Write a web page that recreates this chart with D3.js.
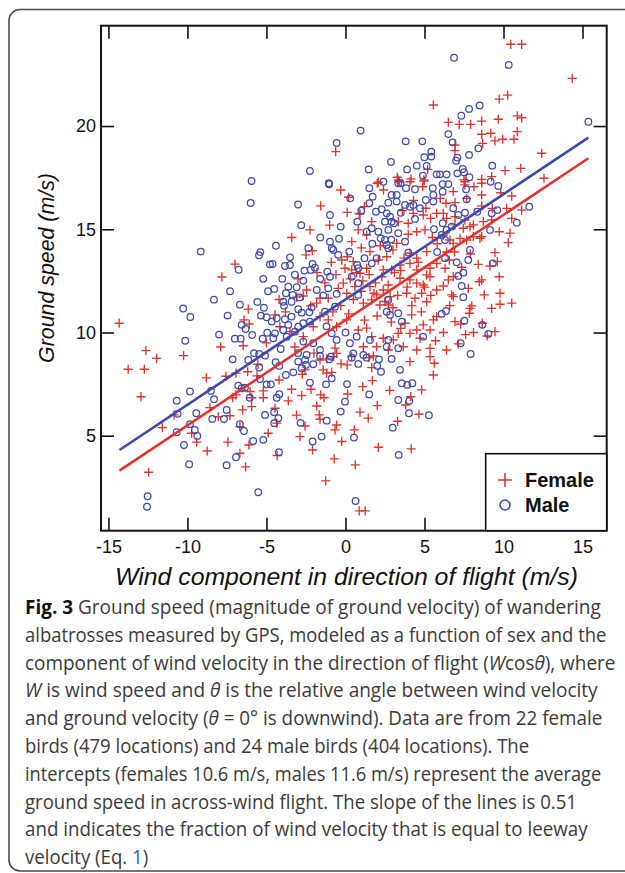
<!DOCTYPE html>
<html><head><meta charset="utf-8">
<script src="https://cdn.jsdelivr.net/npm/d3@7/dist/d3.min.js"></script>
<style>html,body{margin:0;padding:0;background:#fff;}svg{display:block;}</style>
</head><body>
<svg id="chart" width="625" height="873"></svg>
<script>
// ---------------- DATA ----------------
const xTicks = [-15, -10, -5, 0, 5, 10, 15];
const yTicks = [5, 10, 15, 20];
const seriesNames = ["Female", "Male"];
const slope = 0.51;
const femaleIntercept = 10.6;
const maleIntercept = 11.6;
const lineXRange = [-14.3, 15.37];

const femalePoints = [
[10.46,23.96],[11.15,23.96],[14.35,22.31],[9.73,21.3],[10.26,21.5],[6.51,20.18],[7.2,20.08],[7.92,20.08],[8.62,20.24],[9.67,20.33],[10.87,20.49],[11.15,20.4],[8.62,19.6],[9.19,19.65],[10.87,19.73],[6.93,19.08],[8.68,19.16],[9.46,19.28],[9.95,19.36],[10.66,19.36],[6.93,18.81],[12.42,18.68],[10.1,17.84],[11.09,17.95],[7.5,17.39],[8.62,17.42],[12.56,17.47],[9.25,17.55],
[5.56,21.02],[-0.62,18.76],[2.08,17.28],[3.28,17.52],[3.34,17.39],[4.15,17.44],[4.97,17.39],
[-6.99,13.31],[-7.82,12.69],[-6.15,11.13],[-6.42,10.61],[-6.09,10.41],[-14.32,10.45],[-6.47,9.36],[-12.63,9.12],[-11.95,8.75],[-10.24,8.88],
[-13.75,8.22],[-12.73,8.22],[-12.94,6.89],[-5.54,8.46],[-6.19,8.1],[-6.93,8.03],[-7.56,7.88],[-7.14,6.84],[-6.93,6.98],[-6.04,7.14],[-5.94,6.84],[-5.2,7.17],[-5.2,6.84],[-10.85,6.01],[-8.58,6.36],[-8.05,5.92],[-7.31,5.97],[-6.51,6.25],[-5.94,6.41],[-11.59,5.39],[-9.73,5.12],[-9.42,4.69],[-8.75,4.26],[-7.44,4.69],[-6.68,5.44],[-6.11,4.55],[-4.89,5.12],[-6.68,4.15],[-6.32,3.49],[-12.46,3.23],
[-2.73,7.98],[-2.56,8.19],[-1.61,8.67],[-1.19,8.72],[-0.77,8.83],[-1.41,8.19],[-1.19,8.03],[-0.87,8.07],[-0.28,8.48],[0.11,8.43],[1.66,8.3],[1.49,8.78],[4.08,8.59],[5.62,8.51],[5.56,7.94],[4.82,7.22],[1.7,7.67],[1.09,7.38],[-2.18,7.25],[-3.41,7.25],[-3.62,6.69],[-2.77,6.94],[-1.57,6.98],[-1.36,6.84],[0.14,7.02],[-1.82,6.44],[-1.66,6.01],[-1.61,5.8],[0.92,6.14],[1.44,5.85],[2.01,6.46],[3.81,6.49],[4.13,6.89],[4.65,6.04],[-4.46,6.33],[-4.35,5.61],[-2.56,5.47],[-0.56,5.52],[-0.66,5.28],[0.56,5.28],[-2.88,4.96],[-0.24,4.72],[-2.08,4.31],[2.08,4.44],[4.16,4.36],[-4.32,4.04],[-0.71,3.88],[0.62,3.59],[-1.25,2.81],[0.87,1.36],[1.25,1.36],
[7.56,17.3],[7.56,17.15],[8.13,17.06],[8.62,17.23],[6.82,16.82],[6.36,16.26],[8.62,16.66],[10.52,16.61],[9.82,16.77],[7.67,16.5],[8.62,16.13],[6.93,16.29],[9.29,16.01],[10.2,16.01],[11.15,15.93],[10.52,15.53],[6.19,15.77],[6.4,15.53],[6.93,15.61],[7.56,15.45],[8.09,15.21],[8.72,15.37],[9.25,15.45],[6.93,15.21],[7.46,15.05],[7.88,15.13],[8.62,14.64],[9.73,14.88],[10.41,14.81],[10.3,14.35],[6.19,14.72],[6.61,14.48],[7.25,14.56],[7.67,14.48],[8.09,14.64],[8.51,14.56],[6.82,14.32],[9.46,13.87],[9.61,13.43],[9.15,13.22],[9.73,12.7],[6.57,13.51],[6.3,13.11],[6.82,12.7],[6.51,12.55],[6.19,12.25],[7.35,13.16],[8.47,12.46],[8.62,12.55],[7.77,12.14],[8.78,11.82],[9.78,11.9],[6.82,11.74],[6.72,11.82],[7.99,11.29],[7.88,11.17],[9.25,11.17],[9.78,11.37],[10.52,11.42],[7.84,10.93],[6.93,10.53],[7.29,10.41],[8.66,10.45],[9.46,10.04],[8.97,9.83],[7.14,9.45],[6.4,9.15],
[2.01,17.23],[3.41,17.3],[4.08,17.3],[4.89,17.06],[4.97,17.34],[0.2,16.55],[-1.57,16.13],[0.11,15.82],[0.87,15.77],[0.92,15.73],[1.66,15.37],[0.81,14.97],[1.34,14.72],[3.97,14.76],[4.51,14.88],[5.03,14.97],[3.97,15.29],[3.34,15.37],[5.09,16.02],[4.92,15.69],[5.39,15.53],[5.77,15.77],[4.29,15.77],[-2.25,14.97],[-2.1,13.96],[-2.5,13.76],[0.11,13.67],[-0.24,13.51],[0.49,13.43],[0.39,13.03],[0.92,12.87],[1.34,13.11],[-0.03,13.11],[1.55,13.92],[2.08,13.51],[2.61,13.67],[3.24,14.32],[2.39,13.03],[2.92,13.03],[3.45,13.27],[4.08,13.84],[4.51,13.6],[5.14,13.92],[4.08,13.35],[4.51,13.03],[5.14,12.79],[5.35,13.11],[5.77,13.35],[-2.46,12.06],[-1.61,11.66],[-3.09,11.71],[-2.67,11.77],[-2.2,11.29],[-1.82,11.42],[-1.09,11.66],[-0.46,12.14],[-0.14,12.39],[0.08,11.9],[0.6,12.22],[1.55,12.22],[1.97,11.82],[2.39,12.06],[2.82,11.74],[1.66,11.58],[2.18,11.33],[2.71,11.33],[1.13,11.42],[3.45,12.63],[4.08,12.55],[4.51,12.39],[4.92,12.3],[5.35,12.7],[5.77,12.06],[4.82,11.9],[5.14,11.49],[4.4,11.66],[3.87,11.9],[5.77,10.77],[5.56,10.61],[4.92,10.37],[4.19,10.85],[3.77,10.45],[4.51,10.12],[5.35,10.12],[-4.46,10.85],[-4.15,10.28],[-3.51,10.04],[-2.67,9.8],[-2.04,10.28],[-1.61,10.77],[-1.09,10.61],[-0.56,10.28],[0.08,10.61],[0.81,10.12],[1.34,10.21],[1.66,9.8],[2.39,9.72],[3.03,9.64],[3.34,9.96],[4.08,9.96],[4.72,9.72],[1.13,9.31],[1.97,9.31],[2.71,9.15],[3.66,9.31],[4.51,9.15],[5.35,9.23],[-0.56,8.99],[0.39,8.83],[1.76,8.86],[5.35,8.83],[-0.66,9.24],
[0.3,12.6],[0.7,12.9],[1.1,12.5],[1.5,12.8],[1.9,12.4],[2.3,12.7],[2.7,12.3],[3.1,12.9],[3.5,13.0],[1.0,12.0],[1.8,11.9],[2.5,11.5],[3.0,11.2],[3.3,11.8],[3.9,12.2],[0.5,11.6],[-0.3,11.3],[-0.8,11.0],[0.2,10.9],[1.2,10.6],[2.0,10.8],[2.9,10.5],[3.5,10.2],[4.2,11.3],[4.8,11.0],[5.4,11.8],[5.0,12.2],[4.6,13.4],[3.7,13.6],[3.0,14.0],[2.2,14.2],[1.0,14.1],[0.4,14.4],[-0.6,12.8],[-1.3,12.4],[-1.8,12.9],[-0.9,13.4],[-3.0,12.6],[-3.8,11.0],[-4.2,11.6],[-5.0,9.5],[-3.2,9.3],[-2.0,9.0],[6.4,13.9],[6.9,13.9],[7.9,13.8],[8.4,13.3],[5.8,14.3],[5.5,14.6],[6.0,16.5],[5.2,17.9],[4.3,16.4],[3.6,15.9],[2.4,16.9],[1.2,16.1],[-0.3,16.9],[-3.4,14.6],[-1.0,15.2],[6.2,10.0],[7.6,9.9],[5.7,9.6],[6.6,11.3],[8.1,10.0],[-5.6,7.9],[-4.2,7.7],[-3.1,6.0],[2.8,7.2],[3.3,5.7],[-7.9,9.3],[-8.8,7.8]
];

const malePoints = [
[6.87,23.31],[10.33,22.96],[8.49,21.0],[7.82,20.83],[7.33,20.5],[15.37,20.21],[6.51,19.61],[6.78,19.21],[8.41,18.92],[7.08,18.47],[7.0,18.32],[7.82,18.6],[9.29,18.08],[7.42,17.92],[5.98,17.66],[6.4,17.66],[7.08,17.71],[7.5,17.76],[7.84,17.52],[9.19,17.3],
[0.96,19.78],[-0.56,19.18],[3.81,19.26],[4.86,19.26],[5.43,18.76],[5.43,18.52],[4.99,18.49],[2.88,18.26],[4.51,18.08],[5.14,18.07],[-2.25,17.82],[1.47,17.9],[5.77,17.66],[-1.06,17.23],[3.49,17.23],
[-5.94,17.34],[-6.0,16.27],[-9.16,13.92],[-5.39,13.89],[-5.47,13.74],[-6.76,13.04],[-4.78,13.3],[-8.32,11.59],[-5.58,11.48],[-6.68,11.35],[-10.27,11.16],[-9.82,10.75],[-7.46,10.82],[-5.16,11.2],[-5.35,10.82],[-4.99,10.74],[-6.57,10.37],[-6.32,10.17],[-5.9,9.88],[-6.63,9.7],[-5.24,9.7],[-4.95,9.99],[-10.14,9.6],[-7.14,8.7],[-6.15,8.67],[-5.79,9.0],[-5.46,8.96],[-5.09,8.88],
[-5.46,8.3],[-5.41,7.75],[-4.99,7.49],[-6.78,7.43],[-6.57,7.3],[-6.36,7.33],[-9.84,7.14],[-8.51,7.17],[-10.68,6.7],[-8.32,6.77],[-6.06,6.84],[-10.62,6.06],[-9.44,6.09],[-8.43,5.81],[-7.69,5.81],[-7.52,6.25],[-5.09,6.01],[-10.68,5.17],[-9.84,5.56],[-9.53,5.28],[-9.38,4.99],[-10.22,4.55],[-6.68,5.56],[-6.42,5.23],[-5.84,4.75],[-5.2,4.8],[-6.93,3.96],[-7.52,3.57],[-9.89,3.62],[-5.52,2.26],[-12.52,2.07],[-12.56,1.56],
[-4.42,8.56],[-4.19,8.38],[-3.77,7.94],[-3.3,8.07],[-2.99,8.59],[-2.56,8.67],[-2.77,8.27],[-2.5,8.43],[-2.04,8.46],[-1.03,8.7],[-0.92,8.83],[0.39,8.78],[0.81,8.48],[1.34,8.78],[2.12,8.7],[2.01,8.39],[2.25,8.1],[2.92,8.72],[3.45,8.19],[3.56,7.54],[3.91,7.46],[4.23,7.54],[-4.72,7.49],[-2.25,7.57],[-1.23,7.49],[-0.87,7.78],[-4.19,7.01],[-4.35,6.84],[-0.03,6.65],[-1.19,5.73],[-0.3,6.17],[3.34,6.73],[4.04,6.69],[4.02,6.09],[5.28,5.99],[-4.51,6.14],[-4.25,5.85],[-4.51,5.61],[-2.84,5.62],[2.99,5.39],[-1.51,4.96],[-2.08,4.72],[0.54,4.91],[-4.21,4.2],[3.37,4.07],[0.64,1.84],
[6.15,17.19],[6.51,17.19],[9.67,17.1],[6.15,16.82],[7.63,16.94],[7.67,16.45],[6.82,16.02],[11.63,16.09],[8.34,15.85],[9.25,15.77],[9.61,15.93],[7.56,15.8],[7.14,15.69],[10.84,15.32],[6.15,15.29],[6.4,14.97],[6.72,15.13],[9.15,14.97],[6.09,14.72],[6.3,14.48],[7.88,14.0],[7.77,13.51],[7.04,13.4],[9.32,13.35],[7.46,12.9],[7.14,12.74],[7.35,12.25],[7.46,11.71],[6.36,11.04],[6.09,10.9],[7.52,10.57],[8.66,10.37],[9.04,9.93],[7.29,9.48],[7.92,8.96],
[-1.03,17.18],[1.51,16.99],[1.72,16.58],[1.51,16.26],[3.34,17.23],[3.83,16.99],[4.4,16.94],[5.52,16.99],[5.56,16.66],[5.56,16.34],[5.09,16.42],[2.92,16.66],[3.24,16.66],[2.71,16.29],[3.24,16.34],[3.77,16.18],[4.08,16.09],[4.29,16.18],[4.72,16.02],[-0.98,15.69],[-0.3,15.13],[-0.41,14.54],[-0.98,14.4],[1.93,15.85],[2.29,15.97],[2.61,15.77],[2.82,15.61],[2.5,15.37],[2.92,15.37],[3.07,15.29],[0.75,15.37],[1.34,14.88],[1.66,15.05],[2.08,14.88],[2.23,14.56],[2.71,14.97],[3.34,14.81],[3.77,14.4],[2.5,14.48],[-0.77,14.0],[-0.87,14.08],[-0.46,13.76],[-2.35,14.08],[-3.51,13.64],[-3.83,13.22],[-4.61,13.32],[-3.51,13.27],[-2.08,13.32],[-1.93,13.14],[-2.2,13.03],[-1.15,12.95],[-0.98,12.7],[0.24,13.92],[0.75,13.27],[0.81,13.11],[1.66,13.35],[1.97,13.6],[2.61,14.24],[3.97,13.87],[2.71,14.08],[-4.51,12.11],[-3.77,11.9],[-3.34,11.82],[-3.62,12.22],[-3.09,12.19],[-2.67,12.51],[-1.82,12.06],[-1.09,12.14],[-0.56,11.87],[-3.94,11.49],[-3.89,11.29],[-3.41,11.49],[-2.99,11.13],[-2.77,10.96],[-2.29,10.98],[-2.14,11.22],[-1.3,11.01],[-0.66,11.25],[0.81,12.39],[0.81,11.82],[2.71,11.58],[3.34,10.93],[3.56,10.53],[2.82,10.85],[2.61,11.01],[-4.67,10.53],[-4.35,10.69],[-3.83,10.64],[-3.41,10.77],[-3.62,10.37],[-3.94,10.12],[-2.99,10.28],[-2.67,10.45],[-2.25,10.53],[-4.46,9.96],[-4.57,9.72],[-3.72,9.8],[-3.2,10.04],[-2.67,9.56],[-2.04,9.48],[-1.61,9.16],[-0.87,9.96],[-0.56,9.64],[0.28,9.48],[0.71,9.8],[1.55,9.64],[2.71,9.64],[3.34,9.24],[4.92,9.8],[2.61,9.31],[0.49,8.99],[1.13,8.91],[-1.61,8.86],[-2.46,8.91],
[-3.2,12.8],[-2.6,13.0],[-1.6,12.6],[-2.9,11.7],[-1.4,11.8],[-4.0,12.6],[-4.9,12.0],[-5.2,12.6],[-4.1,9.2],[-3.0,9.0],[-1.2,10.3],[0.0,10.0],[0.4,12.7],[1.2,13.6],[1.7,14.3],[2.9,14.5],[3.5,15.8],[4.4,15.5],[1.0,15.9],[0.3,16.5],[2.4,17.3],[4.9,17.6],[3.9,17.9],[-1.6,14.6],[-2.8,15.2],[-4.4,14.2],[-3.0,16.2],[5.6,15.0],[5.8,13.9],[6.3,13.6],[0.1,7.5],[1.5,7.0],[-7.0,9.7],[-8.0,9.9],[-7.3,12.0]
];

const xLabel = "Wind component in direction of flight (m/s)";
const yLabel = "Ground speed (m/s)";
const captionLines = [
  [["Fig. 3", "b"], [" Ground speed (magnitude of ground velocity) of wandering", ""]],
  [["albatrosses measured by GPS, modeled as a function of sex and the", ""]],
  [["component of wind velocity in the direction of flight (", ""], ["W", "i"], ["cos", ""], ["θ", "i"], ["), where", ""]],
  [["W", "i"], [" is wind speed and ", ""], ["θ", "i"], [" is the relative angle between wind velocity", ""]],
  [["and ground velocity (", ""], ["θ", "i"], [" = 0° is downwind). Data are from 22 female", ""]],
  [["birds (479 locations) and 24 male birds (404 locations). The", ""]],
  [["intercepts (females 10.6 m/s, males 11.6 m/s) represent the average", ""]],
  [["ground speed in across-wind flight. The slope of the lines is 0.51", ""]],
  [["and indicates the fraction of wind velocity that is equal to leeway", ""]],
  [["velocity (Eq. ", ""], ["1", "link"], [")", ""]]
];
const captionEnds = [601, 606.6, 615.8, 597.8, 602.6, 529.3, 601.8, 577.1, 587.9, 148.3];

// ---------------- LAYOUT ----------------
const RED = "#e5322b", BLUE = "#4049ae";
const plot = {left: 101, right: 606.7, top: 25.7, bottom: 530.7};
const svg = d3.select("#chart");
const AXFONT = "'Liberation Sans', Arial, Helvetica, sans-serif";

svg.append("rect").attr("x", 9).attr("y", 9.5).attr("width", 650).attr("height", 861.5)
  .attr("rx", 11).attr("fill", "none").attr("stroke", "#4a4a4a").attr("stroke-width", 1.6);

const x = d3.scaleLinear().domain([-15.47, 16.53]).range([plot.left, plot.right]);
const y = d3.scaleLinear().domain([0.4, 24.86]).range([plot.bottom, plot.top]);

const g = svg.append("g");
svg.append("clipPath").attr("id", "clip").append("rect")
  .attr("x", plot.left).attr("y", plot.top).attr("width", plot.right - plot.left).attr("height", plot.bottom - plot.top);

const pts = g.append("g").attr("clip-path", "url(#clip)");
const ps = 4.6;
pts.append("g").selectAll("path").data(femalePoints).join("path")
  .attr("d", d => `M${x(d[0]) - ps},${y(d[1])}h${2 * ps}M${x(d[0])},${y(d[1]) - ps}v${2 * ps}`)
  .attr("stroke", RED).attr("stroke-width", 1.35).attr("fill", "none");
pts.append("g").selectAll("circle").data(malePoints).join("circle")
  .attr("cx", d => x(d[0])).attr("cy", d => y(d[1])).attr("r", 3.3)
  .attr("fill", "none").attr("stroke", BLUE).attr("stroke-width", 1.25);

const lines = [{b: maleIntercept, c: BLUE}, {b: femaleIntercept, c: RED}];
pts.selectAll("line.fit").data(lines).join("line").attr("class", "fit")
  .attr("x1", x(lineXRange[0])).attr("x2", x(lineXRange[1]))
  .attr("y1", d => y(d.b + slope * lineXRange[0])).attr("y2", d => y(d.b + slope * lineXRange[1]))
  .attr("stroke", d => d.c).attr("stroke-width", 2.6);

const tickLen = 13;
const axB = d3.axisBottom(x).tickValues(xTicks).tickSizeInner(-tickLen).tickSizeOuter(0).tickPadding(10).tickFormat(d3.format("d"));
const axT = d3.axisTop(x).tickValues(xTicks).tickSizeInner(-tickLen).tickSizeOuter(0).tickFormat("");
const axL = d3.axisLeft(y).tickValues(yTicks).tickSizeInner(-tickLen).tickSizeOuter(0).tickPadding(5).tickFormat(d3.format("d"));
const axR = d3.axisRight(y).tickValues(yTicks).tickSizeInner(-tickLen).tickSizeOuter(0).tickFormat("");
function style(sel) {
  sel.select(".domain").remove();
  sel.selectAll(".tick line").attr("stroke", "#111").attr("stroke-width", 1.6);
  sel.selectAll("text").attr("font-family", AXFONT).attr("font-size", 18).attr("fill", "#111");
}
g.append("g").attr("transform", `translate(0,${plot.bottom})`).call(axB).call(style);
g.append("g").attr("transform", `translate(0,${plot.top})`).call(axT).call(style);
g.append("g").attr("transform", `translate(${plot.left},0)`).call(axL).call(style);
g.append("g").attr("transform", `translate(${plot.right},0)`).call(axR).call(style);
g.selectAll(".tick text").text(function () { return d3.select(this).text().replace("−", "-"); });

g.append("rect").attr("x", plot.left).attr("y", plot.top).attr("width", plot.right - plot.left)
  .attr("height", plot.bottom - plot.top).attr("fill", "none").attr("stroke", "#111").attr("stroke-width", 2);

function fitWidth(sel, target) {
  const w = sel.node().getComputedTextLength();
  const fs = parseFloat(sel.attr("font-size"));
  sel.attr("font-size", fs * target / w);
}
const xl = svg.append("text").attr("x", 346.5).attr("y", 585).attr("text-anchor", "middle")
  .attr("font-family", AXFONT).attr("font-style", "italic").attr("font-size", 25).attr("fill", "#111").text(xLabel);
fitWidth(xl, 463);
const yl = svg.append("text").attr("transform", "translate(54,268) rotate(-90)").attr("text-anchor", "middle")
  .attr("font-family", AXFONT).attr("font-style", "italic").attr("font-size", 24).attr("fill", "#111").text(yLabel);
fitWidth(yl, 190);

const lg = svg.append("g");
lg.append("rect").attr("x", 485.7).attr("y", 453.7).attr("width", plot.right - 485.7).attr("height", plot.bottom - 453.7)
  .attr("fill", "#fff").attr("stroke", "#111").attr("stroke-width", 1.6);
const lx = 505, ly = [480, 505];
lg.append("path").attr("d", `M${lx - 7},${ly[0]}h14M${lx},${ly[0] - 7}v14`).attr("stroke", RED).attr("stroke-width", 1.6);
lg.append("circle").attr("cx", lx).attr("cy", ly[1]).attr("r", 5).attr("fill", "none").attr("stroke", BLUE).attr("stroke-width", 1.6);
lg.selectAll("text.lab").data(seriesNames).join("text").attr("class", "lab")
  .attr("x", 525).attr("y", (d, i) => ly[i] + 7).attr("font-family", AXFONT).attr("font-weight", "bold")
  .attr("font-size", 20).attr("fill", "#111").text(d => d);

const CAPFONT = "'Open Sans', 'Noto Sans', sans-serif";
captionLines.forEach((segs, i) => {
  const yy = 614 + i * 27.8;
  const t = svg.append("text").attr("x", 0).attr("y", 0)
    .attr("font-family", CAPFONT).attr("font-size", 19.5).attr("fill", "#3a3a3a");
  segs.forEach(([s, st]) => {
    const ts = t.append("tspan").text(s);
    if (st === "b") ts.attr("font-weight", "bold").attr("fill", "#111");
    if (st === "i") ts.attr("font-style", "italic");
    if (st === "link") ts.attr("fill", "#2a64c8");
  });
  const w = t.node().getComputedTextLength();
  const sx = (captionEnds[i] - 25) / w;
  t.attr("transform", `translate(25,${yy}) scale(${sx},1)`);
});
</script>
</body></html>
